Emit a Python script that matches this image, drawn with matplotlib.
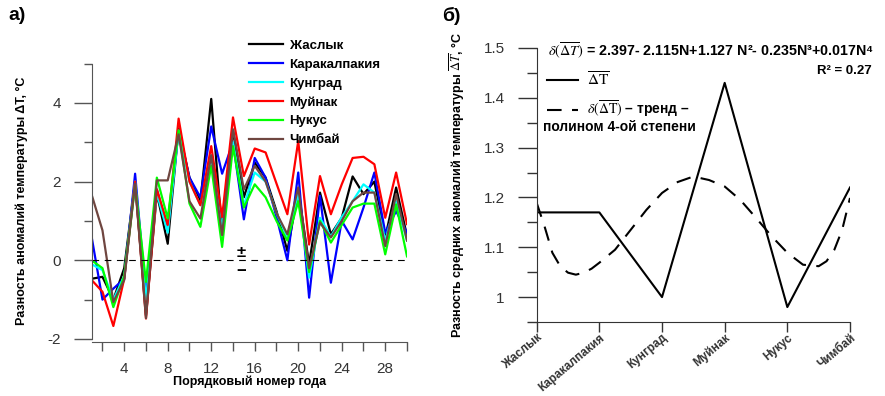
import numpy as np
import matplotlib.pyplot as plt
from matplotlib.lines import Line2D
from matplotlib.ticker import MultipleLocator

plt.rcParams['font.family'] = ['Liberation Sans', 'DejaVu Sans']
plt.rcParams['mathtext.fontset'] = 'stix'
plt.rcParams['axes.unicode_minus'] = False

# panel a) - anomalies per year
years = list(range(1, 31))
stations = ['Жаслык', 'Каракалпакия', 'Кунград', 'Муйнак', 'Нукус', 'Чимбай']
colors = ['#000000', '#0000ff', '#00ffff', '#ff0000', '#00ff00', '#6f4640']

zhaslyk = [-0.47, -0.42, -1.0, -0.2, 2.0, -1.4, 1.7, 0.42, 3.35, 2.1,
           1.5, 4.1, 0.7, 3.3, 1.6, 2.48, 2.1, 1.25, 0.24, 1.76,
           -0.1, 1.72, 0.66, 1.08, 2.13, 1.68, 2.0, 0.58, 1.85, 0.62]
karakalpakia = [0.6, -1.0, -0.72, -0.47, 2.2, -0.9, 1.8, 0.8, 3.3, 2.1,
                1.6, 3.4, 2.2, 3.0, 1.04, 2.6, 2.1, 1.1, 0.0, 2.23,
                -0.95, 1.64, -0.57, 1.0, 0.53, 1.34, 2.23, 0.7, 1.25, 0.7]
kungrad = [-0.1, -0.25, -1.0, -0.4, 2.0, -1.0, 1.7, 0.7, 3.3, 2.0,
           1.4, 2.6, 0.8, 3.0, 1.4, 2.23, 2.0, 1.2, 0.58, 1.7,
           -0.44, 1.08, 0.6, 1.1, 1.5, 1.93, 1.72, 0.5, 1.5, 0.5]
muynak = [-0.5, -0.8, -1.67, -0.47, 2.0, -1.48, 1.8, 0.9, 3.6, 2.0,
          1.4, 2.9, 1.1, 3.63, 2.14, 2.84, 2.74, 1.95, 1.17, 3.03,
          0.4, 2.14, 1.17, 1.93, 2.6, 2.63, 2.44, 1.08, 2.23, 0.92]
nukus = [0.0, -0.2, -1.19, -0.4, 1.9, -0.55, 2.1, 1.06, 3.3, 1.44,
         0.85, 2.4, 0.34, 2.9, 1.34, 1.93, 1.6, 1.0, 0.5, 1.5,
         -0.3, 1.0, 0.45, 0.9, 1.34, 1.44, 1.44, 0.15, 1.42, 0.1]
chimbay = [1.67, 0.76, -1.06, -0.5, 1.95, -1.47, 2.03, 2.03, 3.2, 1.5,
           1.06, 2.67, 0.64, 3.33, 1.8, 2.4, 2.0, 1.2, 0.66, 1.85,
           -0.2, 0.96, 0.58, 1.0, 1.5, 1.72, 1.72, 0.36, 1.68, 0.5]
series = [zhaslyk, karakalpakia, kungrad, muynak, nukus, chimbay]

# panel б) - mean difference per station and 4th order trend
mean_diff = [1.17, 1.17, 1.0, 1.43, 0.98, 1.22]
trend_x = [0, 0.125, 0.25, 0.375, 0.5, 0.625, 0.75, 0.875, 1.0, 1.25, 1.5, 1.75,
           2.0, 2.25, 2.5, 2.75, 3.0, 3.25, 3.5, 3.75, 4.0, 4.25, 4.5, 4.625,
           4.75, 4.875, 5.0]
trend_y = [1.189, 1.142, 1.089, 1.062, 1.049, 1.045, 1.049, 1.057, 1.069, 1.095,
           1.135, 1.175, 1.209, 1.231, 1.242, 1.235, 1.222, 1.195, 1.159, 1.122,
           1.089, 1.065, 1.062, 1.072, 1.095, 1.135, 1.199]

W, H = 885, 396
fig = plt.figure(figsize=(W / 100, H / 100), dpi=100)

def fx(px):
    return px / W

def fy(py):
    return 1 - py / H

tick_col = '#333333'

# ---- a) ----
ax1 = fig.add_axes([fx(91.6), fy(339), fx(407) - fx(91.6), fy(63.5) - fy(339)])
for s, name, c in zip(series, stations, colors):
    ax1.plot(years, s, color=c, lw=1.6, label=name)
ax1.axhline(0, color='black', lw=0.8, dashes=(6, 5))
ax1.set_xlim(1, 30)
ax1.set_ylim(-2, 5)
ax1.xaxis.set_major_locator(MultipleLocator(4))
ax1.xaxis.set_minor_locator(MultipleLocator(2))
ax1.yaxis.set_major_locator(MultipleLocator(2))
ax1.yaxis.set_minor_locator(MultipleLocator(1))
for sp in ['top', 'right']:
    ax1.spines[sp].set_visible(False)
for sp in ['left', 'bottom']:
    ax1.spines[sp].set_color('#555555')
ax1.spines['bottom'].set_position(('outward', 2))
ax1.tick_params(axis='y', which='major', length=13, width=1, colors='#555555',
                labelcolor=tick_col, labelsize=11, pad=9)
ax1.tick_params(axis='y', which='minor', length=6, width=1, colors='#555555')
ax1.tick_params(axis='x', which='both', length=6.5, width=1, colors='#555555',
                labelcolor=tick_col, labelsize=11, pad=8)
ax1.set_xlabel('Порядковый номер года', fontsize=9, fontweight='bold', labelpad=0)
ax1.set_ylabel('Разность аномалий температуры ΔT, °C', fontsize=9,
               fontweight='bold', labelpad=14)
ax1.text(14.8, 0.2, '±', fontsize=12, fontweight='bold', ha='center', va='center')
ax1.text(14.8, -0.28, '−', fontsize=12, fontweight='bold', ha='center', va='center')
ax1.legend(loc='upper left', bbox_to_anchor=(fx(242), fy(33)),
           bbox_transform=fig.transFigure, frameon=False, borderpad=0,
           prop={'weight': 'bold', 'size': 9.5},
           handlelength=2.6, handletextpad=0.5, labelspacing=0.5)
fig.text(fx(8), fy(16), 'а)', fontsize=14, fontweight='bold', va='center')

# ---- б) ----
ax2 = fig.add_axes([fx(536.7), fy(322), fx(850) - fx(536.7), fy(48) - fy(322)])
pos = np.arange(len(stations))
ax2.plot(pos, mean_diff, color='black', lw=1.5)
ax2.plot(trend_x, trend_y, color='black', lw=1.5, dashes=(7, 5))
ax2.set_xlim(0, 5)
ax2.set_ylim(0.95, 1.5)
ax2.set_xticks(pos)
ax2.set_xticklabels(stations, rotation=40, ha='right', rotation_mode='anchor',
                    fontsize=8.5, fontweight='bold')
ax2.yaxis.set_minor_locator(MultipleLocator(0.05))
ax2.set_yticks([1.0, 1.1, 1.2, 1.3, 1.4, 1.5])
ax2.set_yticklabels(['1', '1.1', '1.2', '1.3', '1.4', '1.5'])
for sp in ['top', 'right']:
    ax2.spines[sp].set_visible(False)
for sp in ['left', 'bottom']:
    ax2.spines[sp].set_color('#333333')
ax2.tick_params(axis='y', which='major', length=14, width=1, colors='#333333',
                labelcolor=tick_col, labelsize=11, pad=9)
ax2.tick_params(axis='y', which='minor', length=7, width=1, colors='#333333')
ax2.tick_params(axis='x', which='major', length=7, width=1, colors='#333333',
                labelcolor=tick_col, pad=0)
ax2.set_ylabel('Разность средних аномалий температуры $\\overline{\\Delta T}$, °C',
               fontsize=9, fontweight='bold', labelpad=12)

fig.text(fx(548), fy(50), '$\\delta(\\overline{\\Delta T})$ = 2.397- 2.115N+1.127 N²- 0.235N³+0.017N⁴',
         fontsize=10.3, fontweight='bold', va='center', ha='left')
fig.text(fx(872), fy(71), 'R² = 0.27', fontsize=9.5, fontweight='bold',
         va='center', ha='right')
fig.add_artist(Line2D([fx(547), fx(578)], [fy(80), fy(80)], color='black', lw=1.5))
fig.text(fx(587), fy(80), '$\\overline{\\Delta \\mathrm{T}}$', fontsize=11, va='center', ha='left')
fig.add_artist(Line2D([fx(547), fx(578)], [fy(110), fy(110)], color='black', lw=1.5,
                      dashes=(7, 5)))
fig.text(fx(587), fy(109), '$\\delta(\\overline{\\Delta \\mathrm{T}})$ – тренд –', fontsize=10,
         fontweight='bold', va='center', ha='left')
fig.text(fx(543), fy(127), 'полином 4-ой степени', fontsize=10, fontweight='bold',
         va='center', ha='left')
fig.text(fx(442), fy(16), 'б)', fontsize=14, fontweight='bold', va='center')

fig.savefig('out.png', dpi=100)
